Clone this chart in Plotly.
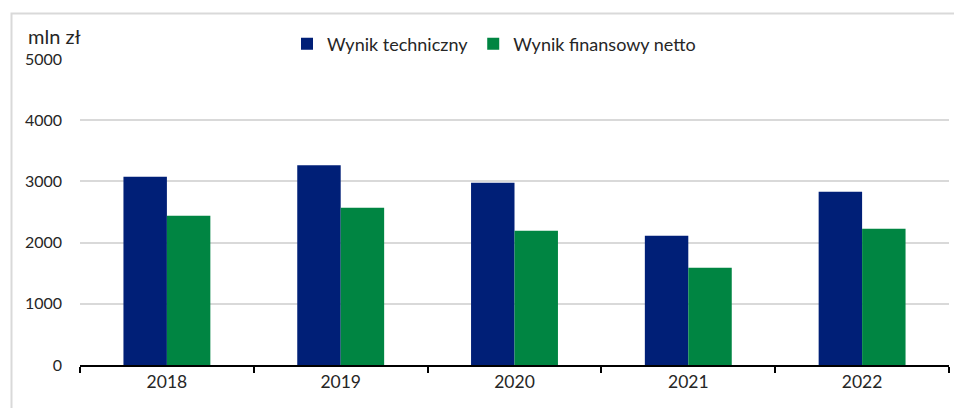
import plotly.graph_objects as go

years = ["2018", "2019", "2020", "2021", "2022"]
wynik_techniczny = [3077, 3262, 2979, 2111, 2831]
wynik_finansowy_netto = [2439, 2570, 2193, 1588, 2226]
y_ticks = [0, 1000, 2000, 3000, 4000, 5000]

FONT = "Lato, Carlito, 'Liberation Sans', sans-serif"
TXT = "#262626"

fig = go.Figure()
fig.add_trace(go.Bar(x=years, y=wynik_techniczny, name="Wynik techniczny",
                     marker=dict(color="#001F77", line=dict(width=0))))
fig.add_trace(go.Bar(x=years, y=wynik_finansowy_netto, name="Wynik finansowy netto",
                     marker=dict(color="#008542", line=dict(width=0))))

# page body has an 8px margin; work in reference pixel coords and shift
OFF = 8
W, H = 962 - OFF, 408 - OFF
L, T = 80 - OFF, 59 - OFF
R = 962 - 949
B = 408 - 365
pw, ph = 949 - 80, 365 - 59

def px_x(p):
    return (p - 80) / pw

def px_y(p):
    return (365 - p) / ph

fig.update_layout(
    width=W, height=H,
    margin=dict(l=L, r=R, t=T, b=B, autoexpand=False),
    paper_bgcolor="white", plot_bgcolor="white",
    barmode="group", bargap=0.5, bargroupgap=0,
    font=dict(family=FONT, size=16, color=TXT),
    showlegend=True,
    legend=dict(orientation="h", x=px_x(494), xanchor="center", y=px_y(44), yanchor="middle",
                font=dict(family=FONT, size=18, color=TXT), itemwidth=30,
                traceorder="normal", bgcolor="rgba(0,0,0,0)"),
    xaxis=dict(type="category", showline=True, linecolor="black", linewidth=2,
               ticks="outside", tickson="boundaries", ticklen=6, tickwidth=2, tickcolor="black",
               showgrid=False, tickfont=dict(family=FONT, size=17.5, color=TXT)),
    yaxis=dict(range=[0, 5000], tickvals=y_ticks, showline=False, showgrid=True,
               gridcolor="#D9D9D9", gridwidth=1.5, zeroline=False,
               ticks="", ticklabelstandoff=17,
               tickfont=dict(family=FONT, size=16, color=TXT)),
    annotations=[dict(text="mln zł", xref="paper", yref="paper", x=px_x(26), y=px_y(36),
                      xanchor="left", yanchor="middle", showarrow=False,
                      font=dict(family=FONT, size=20, color=TXT))],
    shapes=[dict(type="path", xref="paper", yref="paper",
                 path=f"M {px_x(11.5)} {px_y(420)} L {px_x(11.5)} {px_y(13.5)} L {px_x(980)} {px_y(13.5)}",
                 line=dict(color="#D9D9D9", width=2))],
)

fig.write_html("out.html")
